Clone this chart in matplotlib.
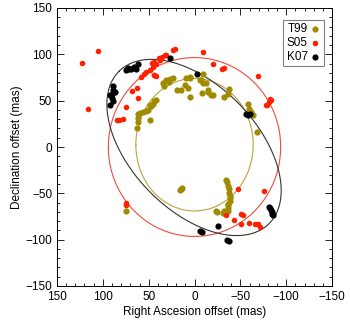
import numpy as np
import matplotlib
matplotlib.use('Agg')
import matplotlib.pyplot as plt
from matplotlib.ticker import MultipleLocator

plt.rcParams['font.family'] = ['Liberation Sans', 'DejaVu Sans']
plt.rcParams['axes.unicode_minus'] = True

# T99 (olive)
t99_x = [74.7, 63, 61.2, 62, 61.6, 59.4, 56.2, 53, 50.8, 48.9, 48.2, 47, 45.3, 44, 41.6,
         34.8, 30.8, 27.2, 23.9, 28, 33,
         19, 10, 7.3, 4.7, 9, 5.4, -6, -9, -7.3, -9.8, -12.7, -14.5, -15.2, -18, -20,
         -32.6, -36.2, -38, 4.7, 15, -8,
         -58, -59.8, -61.6, -63.4, -60, -62, -68.2,
         14.5, 15.5, 13.5,
         -34.4, -35, -37, -37.5, -38, -38.5, -39, -38.5, -37, -36.2, -37, -36, -32.6, -30.8,
         -23.6, -24.5]
t99_y = [-68.7, 20, 27, 31, 36, 36.5, 37.8, 39, 40, 28.8, 45, 44, 46.8, 50, 50.4,
         68.7, 72, 73.2, 74, 70, 66,
         62, 67, 63.4, 74, 74, 75.6, 72.4, 79, 72, 68.8, 69, 59.4, 61.5, 55.8, 56,
         54, 57.6, 63, 54.4, 62, 58,
         46.8, 41.5, 37.9, 34.2, 38, 36, 16.3,
         -45, -46.7, -44,
         -35.7, -38, -42, -45, -50, -52.5, -55, -58, -61, -63, -66, -68.7, -69, -71,
         -68.8, -70.5]

# S05 (red)
s05_x = [123, 105.8, 116.6, 75, 84.8, 77.5, 82, 68.5, 61.2, 63,
         58, 55.4, 52.5, 48.9, 45.3, 41.6, 38, 44.2, 41.6,
         44.6, 39, 35.5, 32.6, 46.4, 44.6, 30.8, 23.6, 21.7,
         -9.8, -20.6, -29.7, -32.6, -68.8, -81.9, -83.4, -80.8, -79, -78,
         -47.8, -75.3, -34.4, -42.7, -50.7, -52.5, -50.7, -59, -66, -68.8, -71.7,
         74.7, 74.7, 74.7]
s05_y = [91, 104, 41, 43, 28.8, 30.6, 29, 60.6, 52.6, 63.4,
         75.9, 78.5, 81, 82.8, 86.4, 90, 93.6, 77.4, 76.3,
         92, 95.8, 97.6, 99.4, 90.4, 77.8, 99.8, 105, 105.5,
         103, 90, 84, 85.7, 76.3, 51.8, 51.2, 48.6, 45.8, 45,
         -45, -47.8, -73.8, -78.4, -72, -73.8, -82.7, -81.7, -83.5, -83.5, -86,
         -60, -61.5, -63]

# K07 (black)
k07_x = [92, 90.2, 88.4, 92.4, 88.8, 87, 90, 89,
         74.2, 71, 68.8, 66, 63.4, 73, 61.6,
         26.4, -2.5, -56.2, -60.9, -58.5,
         -81.5, -82.5, -83.4, -84, -85.1, -84.5,
         -25.3, -6.5, -8, -35.5, -38]
k07_y = [45.4, 52.6, 61.6, 55.8, 65.5, 59.5, 57, 50,
         82.8, 84, 84.7, 86, 84.7, 85, 90,
         96.5, 78.5, 35.2, 35.2, 34.5,
         -64.5, -66, -68.3, -70, -73.8, -72,
         -85.6, -91, -91.5, -100.7, -101.8]

# fitted orbits: (x0, y0, semi-axis a, semi-axis b, angle deg)
orb_t99 = (0, 2.5, 64, 71.5, 0)
orb_s05 = (0, 0, 94, 96.5, 0)
orb_k07 = (0.5, -0.5, 116, 68, 45)

c_t99 = '#a08a00'
c_s05 = '#ff2000'
c_k07 = 'black'


def ellipse(p):
    x0, y0, a, b, ang = p
    t = np.linspace(0, 2 * np.pi, 400)
    th = np.radians(ang)
    ex = a * np.cos(t)
    ey = b * np.sin(t)
    return (x0 + ex * np.cos(th) - ey * np.sin(th),
            y0 + ex * np.sin(th) + ey * np.cos(th))


fig = plt.figure(figsize=(3.5, 3.24), dpi=100)
ax = fig.add_axes([57 / 350, 38 / 324, 275 / 350, 278 / 324])

ax.plot(*ellipse(orb_t99), color='#c0a040', lw=0.8)
ax.plot(*ellipse(orb_s05), color='#f04a40', lw=0.8)
ax.plot(*ellipse(orb_k07), color='#333333', lw=0.8)

ax.scatter(t99_x, t99_y, s=20, color=c_t99, lw=0, label='T99', zorder=3)
ax.scatter(s05_x, s05_y, s=16, color=c_s05, lw=0, label='S05', zorder=3)
ax.scatter(k07_x, k07_y, s=20, color=c_k07, lw=0, label='K07', zorder=3)

ax.set_xlim(150, -150)
ax.set_ylim(-150, 150)
ax.xaxis.set_major_locator(MultipleLocator(50))
ax.yaxis.set_major_locator(MultipleLocator(50))
ax.xaxis.set_minor_locator(MultipleLocator(10))
ax.yaxis.set_minor_locator(MultipleLocator(10))
ax.tick_params(which='both', direction='in', top=True, right=True, labelsize=8.5, width=0.6)
ax.tick_params(which='major', length=5)
ax.tick_params(which='minor', length=2.5)
for s in ax.spines.values():
    s.set_linewidth(0.7)

ax.set_xlabel('Right Ascesion offset (mas)', fontsize=8.5, labelpad=2)
ax.set_ylabel('Declination offset (mas)', fontsize=8.5, labelpad=2)

leg = ax.legend(loc='upper right', bbox_to_anchor=(0.972, 0.958), borderaxespad=0,
                markerfirst=False, fontsize=8.5, handletextpad=0.1, handlelength=1,
                borderpad=0.3, labelspacing=0.15, fancybox=False, framealpha=1)
leg.get_frame().set_edgecolor('#808080')
leg.get_frame().set_linewidth(0.8)

fig.savefig('out.png', dpi=100)
